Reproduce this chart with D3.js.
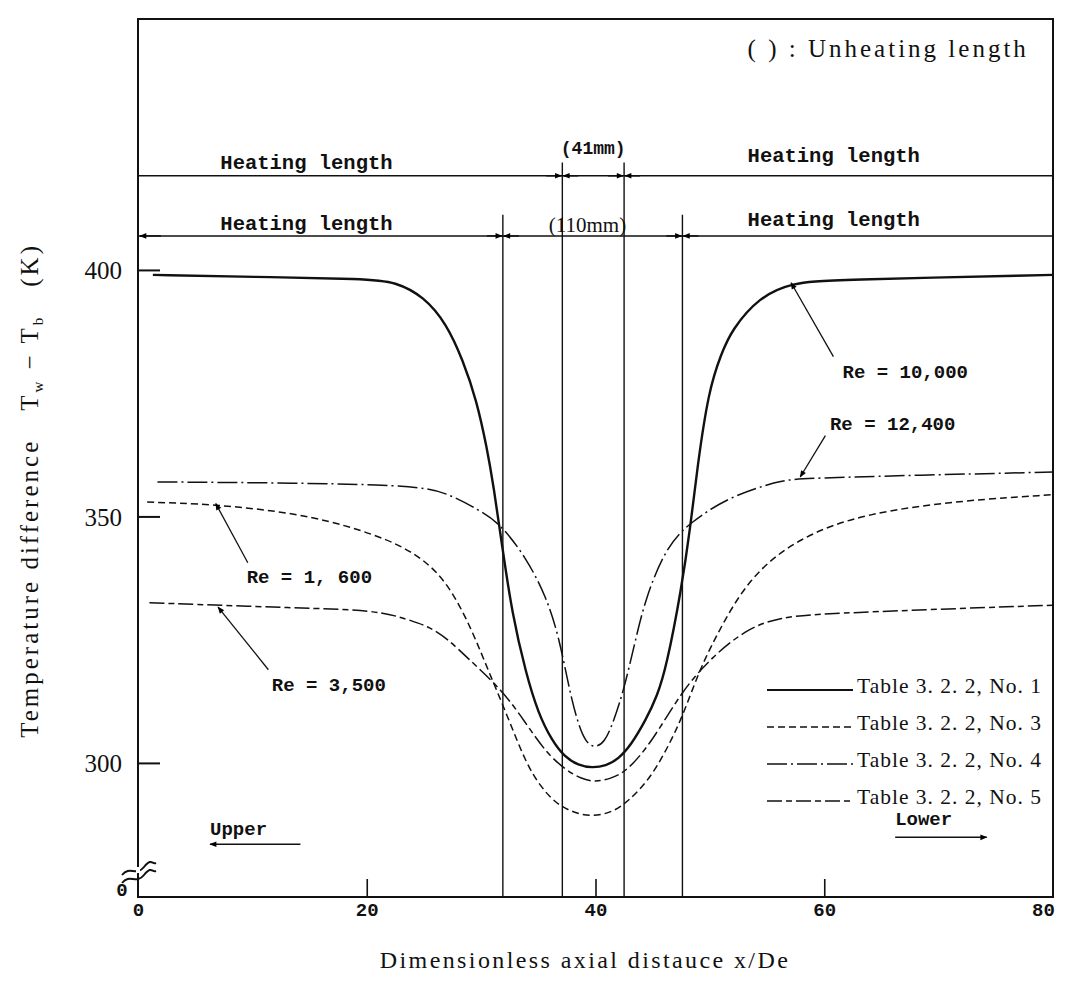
<!DOCTYPE html>
<html>
<head>
<meta charset="utf-8">
<script src="https://cdn.jsdelivr.net/npm/d3@7"></script>
<style>
  body { margin: 0; background: #fff; }
  svg { display: block; }
</style>
</head>
<body>
<div id="chart"></div>
<script>
// ===============================
// Data
// ===============================
// x = x/De, y = Tw - Tb (K)
const seriesNo1 = [[1.3,399.0],[10,398.6],[20.0,398.2],[22.5,397.6],[25.0,394.6],[27.0,389.0],[28.4,381.7],[29.6,373.6],[30.5,364.0],[31.1,356.0],[31.85,343.8],[32.7,330.4],[33.9,318.3],[35.0,310.0],[36.2,304.5],[37.3,301.2],[38.5,299.5],[39.7,299.0],[40.9,299.4],[42.0,300.8],[43.1,303.6],[44.4,308.7],[45.4,313.6],[46.2,319.5],[47.5,335.1],[48.3,347.9],[48.9,360.0],[49.9,375.7],[51.0,383.0],[51.9,387.8],[54.3,394.5],[57.2,397.4],[60.6,398.0],[80,399.0]];
const seriesNo3 = [[0.8,352.9],[6.5,352.5],[13.9,350.7],[19.6,347.3],[24.0,343.2],[27.0,337.1],[29.2,327.0],[30.7,318.3],[32.2,310.1],[33.9,300.0],[35.2,295.2],[36.4,292.1],[37.8,290.1],[39.7,289.0],[41.6,290.1],[42.9,292.3],[44.7,296.6],[46.2,302.6],[47.6,309.3],[49.0,318.3],[50.5,325.6],[53.4,337.7],[57.8,345.8],[63.6,350.7],[72.3,353.3],[80,354.4]];
const seriesNo4 = [[1.7,357.0],[24.0,356.6],[27.0,354.8],[29.8,351.3],[31.6,348.7],[33.9,341.8],[35.7,333.7],[36.8,325.6],[37.7,315.0],[38.4,308.5],[39.1,304.3],[39.9,303.0],[40.8,304.1],[41.6,308.5],[42.5,315.0],[43.4,324.0],[44.4,333.7],[46.2,343.8],[48.2,348.7],[51.7,354.0],[56.0,357.2],[57.8,357.8],[80,359.0]];
const seriesNo5 = [[1.0,332.5],[14.1,331.4],[20.9,331.0],[23.7,329.0],[25.5,327.6],[27.2,324.9],[28.7,321.5],[31.85,314.8],[33.9,308.1],[35.7,302.0],[37.4,298.6],[38.7,296.8],[40.0,296.1],[41.3,296.8],[42.7,298.2],[44.9,304.1],[47.6,314.8],[50.2,321.5],[53.1,327.0],[56.0,329.6],[60.6,330.4],[80,332.0]];

const seriesLabels = ["Table 3. 2. 2, No. 1", "Table 3. 2. 2, No. 3", "Table 3. 2. 2, No. 4", "Table 3. 2. 2, No. 5"];
const yTicks = [300, 350, 400];
const xTicks = [0, 20, 40, 60, 80];

// vertical boundaries of the unheated sections (x/De)
const innerBounds = [37.1, 42.5];   // 41 mm
const outerBounds = [31.9, 47.6];   // 110 mm

// Re labels: text position, arrow tail, arrow head (data units)
const reLabels = [
    { text: "Re = 10,000", tx: 61.6, ty: 378.0, from: [60.8, 382.4], to: [57.1, 397.4] },
    { text: "Re = 12,400", tx: 60.5, ty: 367.6, from: [60.1, 366.4], to: [57.9, 358.0] },
    { text: "Re = 1, 600", tx: 9.5, ty: 336.4, from: [9.6, 340.6], to: [6.8, 352.6] },
    { text: "Re = 3,500", tx: 11.7, ty: 314.6, from: [11.4, 318.9], to: [7.0, 331.6] }
];

// ===============================
// Layout
// ===============================
const W = 1069, H = 982;
const x = d3.scaleLinear().domain([0, 80]).range([138, 1053]);
const y = d3.scaleLinear().domain([272.8, 450.9]).range([897, 19]);

const styles = [
    { dash: null, width: 2.4 },
    { dash: "7,4", width: 1.5 },
    { dash: "20,4,2,4", width: 1.5 },
    { dash: "15,4,6,4", width: 1.5 }
];

const svg = d3.select("#chart").append("svg")
    .attr("width", W).attr("height", H)
    .style("background", "#fff");

const defs = svg.append("defs");
defs.append("marker")
    .attr("id", "arrow")
    .attr("viewBox", "0 0 10 10")
    .attr("refX", 9).attr("refY", 5)
    .attr("markerWidth", 9).attr("markerHeight", 7)
    .attr("markerUnits", "userSpaceOnUse")
    .attr("orient", "auto")
    .append("path").attr("d", "M0,1 L10,5 L0,9 Z").attr("fill", "#000");

const ink = "#111";
const mono = "'Liberation Mono', 'DejaVu Sans Mono', monospace";
const serif = "'Liberation Serif', 'DejaVu Serif', serif";

// frame
svg.append("rect")
    .attr("x", x(0)).attr("y", y.range()[1])
    .attr("width", x(80) - x(0)).attr("height", y.range()[0] - y.range()[1])
    .attr("fill", "none").attr("stroke", ink).attr("stroke-width", 2);

// y axis (inward ticks)
const yAxis = d3.axisLeft(y).tickValues(yTicks).tickSize(-22).tickPadding(16);
svg.append("g")
    .attr("transform", `translate(${x(0)},0)`)
    .call(yAxis)
    .call(g => g.select(".domain").remove())
    .call(g => g.selectAll(".tick line").attr("stroke", ink).attr("stroke-width", 2))
    .call(g => g.selectAll(".tick text")
        .attr("font-family", serif).attr("font-size", 25)
        .attr("fill", ink).attr("dy", "0.36em"));

// x axis
const xAxis = d3.axisBottom(x).tickValues(xTicks).tickSize(-18).tickPadding(6);
svg.append("g")
    .attr("transform", `translate(0,${y.range()[0]})`)
    .call(xAxis)
    .call(g => g.select(".domain").remove())
    .call(g => g.selectAll(".tick line")
        .attr("stroke", ink).attr("stroke-width", 1.6)
        .attr("display", d => (d === 0 || d === 80) ? "none" : null))
    .call(g => g.selectAll(".tick text")
        .attr("font-family", mono).attr("font-weight", "bold")
        .attr("font-size", 19).attr("fill", ink)
        .attr("dx", d => d === 80 ? -10 : 0));

// "0" at bottom of y axis plus break mark
svg.append("text")
    .attr("x", x(0) - 16).attr("y", y.range()[0] - 1)
    .attr("text-anchor", "middle")
    .attr("font-family", mono).attr("font-weight", "bold").attr("font-size", 19)
    .attr("fill", ink).text("0");
[0, 8].forEach(off => {
    const bx = x(0) - 16, by = y.range()[0] - 28 + off;
    svg.append("path")
        .attr("d", `M${bx},${by + 6} C${bx + 8},${by - 4} ${bx + 14},${by + 8} ${bx + 22},${by - 2} S${bx + 30},${by - 4} ${bx + 34},${by - 6}`)
        .attr("fill", "none").attr("stroke", ink).attr("stroke-width", 2);
});
// white gap in axis for the break
svg.append("rect")
    .attr("x", x(0) - 2).attr("y", y.range()[0] - 30)
    .attr("width", 4).attr("height", 6).attr("fill", "#fff");

// heating length dimension lines
const upperY = 419.1, lowerY = 406.9;
svg.append("line")
    .attr("x1", x(0)).attr("x2", x(80))
    .attr("y1", y(upperY)).attr("y2", y(upperY))
    .attr("stroke", ink).attr("stroke-width", 1.5);
svg.append("line")
    .attr("x1", x(0)).attr("x2", x(80))
    .attr("y1", y(lowerY)).attr("y2", y(lowerY))
    .attr("stroke", ink).attr("stroke-width", 1.5);

// left arrowhead on lower line
svg.append("line")
    .attr("x1", x(2)).attr("x2", x(0) + 2)
    .attr("y1", y(lowerY)).attr("y2", y(lowerY))
    .attr("stroke", ink).attr("stroke-width", 1.5)
    .attr("marker-end", "url(#arrow)");

// vertical boundary lines
svg.selectAll(".inner-bound").data(innerBounds).enter()
    .append("line").attr("class", "inner-bound")
    .attr("x1", d => x(d)).attr("x2", d => x(d))
    .attr("y1", y(421.8)).attr("y2", y.range()[0])
    .attr("stroke", ink).attr("stroke-width", 1.4);
svg.selectAll(".outer-bound").data(outerBounds).enter()
    .append("line").attr("class", "outer-bound")
    .attr("x1", d => x(d)).attr("x2", d => x(d))
    .attr("y1", y(411.2)).attr("y2", y.range()[0])
    .attr("stroke", ink).attr("stroke-width", 1.4);

// small arrows pointing at the boundaries
function boundArrows(bounds, yy) {
    bounds.forEach(b => {
        [-1, 1].forEach(side => {
            svg.append("line")
                .attr("x1", x(b) + side * 16).attr("x2", x(b) + side * 1)
                .attr("y1", y(yy)).attr("y2", y(yy))
                .attr("stroke", ink).attr("stroke-width", 1.5)
                .attr("marker-end", "url(#arrow)");
        });
    });
}
boundArrows(innerBounds, upperY);
boundArrows(outerBounds, lowerY);

// heating length texts
const heatTexts = [
    { t: "Heating length", tx: 7.2, ty: 420.4 },
    { t: "Heating length", tx: 53.3, ty: 421.9 },
    { t: "Heating length", tx: 7.2, ty: 408.1 },
    { t: "Heating length", tx: 53.3, ty: 409.0 }
];
svg.selectAll(".heat").data(heatTexts).enter()
    .append("text").attr("class", "heat")
    .attr("x", d => x(d.tx)).attr("y", d => y(d.ty))
    .attr("font-family", mono).attr("font-weight", "bold").attr("font-size", 20.5)
    .attr("fill", ink).text(d => d.t);

svg.append("text")
    .attr("x", x(39.8)).attr("y", y(423.6))
    .attr("text-anchor", "middle")
    .attr("font-family", mono).attr("font-weight", "bold").attr("font-size", 18)
    .attr("fill", ink).text("(41mm)");
svg.append("text")
    .attr("x", x(39.3)).attr("y", y(407.6))
    .attr("text-anchor", "middle")
    .attr("font-family", serif).attr("font-size", 21)
    .attr("fill", ink).text("(110mm)");

svg.append("text")
    .attr("x", x(53.3)).attr("y", y(443.2))
    .attr("font-family", serif).attr("font-size", 25)
    .attr("letter-spacing", 3)
    .attr("fill", ink).text("( ) : Unheating length");

// curves
const line = d3.line()
    .x(d => x(d[0])).y(d => y(d[1]))
    .curve(d3.curveBasis);

const allSeries = [seriesNo1, seriesNo3, seriesNo4, seriesNo5];
svg.selectAll(".curve").data(allSeries).enter()
    .append("path").attr("class", "curve")
    .attr("d", line)
    .attr("fill", "none")
    .attr("stroke", ink)
    .attr("stroke-width", (d, i) => styles[i].width)
    .attr("stroke-dasharray", (d, i) => styles[i].dash);

// Re labels with arrows
reLabels.forEach(r => {
    svg.append("line")
        .attr("x1", x(r.from[0])).attr("y1", y(r.from[1]))
        .attr("x2", x(r.to[0])).attr("y2", y(r.to[1]))
        .attr("stroke", ink).attr("stroke-width", 1.3)
        .attr("marker-end", "url(#arrow)");
    svg.append("text")
        .attr("x", x(r.tx)).attr("y", y(r.ty))
        .attr("font-family", mono).attr("font-weight", "bold").attr("font-size", 19)
        .attr("fill", ink).text(r.text);
});

// legend
const legendRows = [690, 727, 764, 801];
const legend = svg.append("g");
seriesLabels.forEach((lab, i) => {
    legend.append("line")
        .attr("x1", 767).attr("x2", 853)
        .attr("y1", legendRows[i]).attr("y2", legendRows[i])
        .attr("stroke", ink)
        .attr("stroke-width", i === 0 ? 2 : 1.5)
        .attr("stroke-dasharray", styles[i].dash);
    legend.append("text")
        .attr("x", 857).attr("y", legendRows[i] + 3)
        .attr("font-family", serif).attr("font-size", 21.5)
        .attr("letter-spacing", 1)
        .attr("fill", ink).text(lab);
});

// Upper / Lower flow-direction arrows
svg.append("text")
    .attr("x", x(6.3)).attr("y", y(285.3))
    .attr("font-family", mono).attr("font-weight", "bold").attr("font-size", 19)
    .attr("fill", ink).text("Upper");
svg.append("line")
    .attr("x1", x(14.2)).attr("x2", x(6.3))
    .attr("y1", y(283.5)).attr("y2", y(283.5))
    .attr("stroke", ink).attr("stroke-width", 1.5)
    .attr("marker-end", "url(#arrow)");
svg.append("text")
    .attr("x", x(66.2)).attr("y", y(287.4))
    .attr("font-family", mono).attr("font-weight", "bold").attr("font-size", 19)
    .attr("fill", ink).text("Lower");
svg.append("line")
    .attr("x1", x(66.2)).attr("x2", x(74.2))
    .attr("y1", y(284.9)).attr("y2", y(284.9))
    .attr("stroke", ink).attr("stroke-width", 1.5)
    .attr("marker-end", "url(#arrow)");

// axis titles
const yTitle = svg.append("text")
    .attr("transform", `translate(38,${(y(300) + y(400)) / 2 - 26}) rotate(-90)`)
    .attr("text-anchor", "middle")
    .attr("font-family", serif).attr("font-size", 25)
    .attr("letter-spacing", 3)
    .attr("fill", ink);
yTitle.append("tspan").text("Temperature difference\u2003T");
yTitle.append("tspan").attr("font-size", 15).attr("dy", 5).text("w");
yTitle.append("tspan").attr("dy", -5).text(" \u2212 T");
yTitle.append("tspan").attr("font-size", 15).attr("dy", 5).text("b");
yTitle.append("tspan").attr("dy", -5).text("\u2003(K)");

svg.append("text")
    .attr("x", 585).attr("y", 968)
    .attr("text-anchor", "middle")
    .attr("font-family", serif).attr("font-size", 24)
    .attr("letter-spacing", 2.4)
    .attr("fill", ink).text("Dimensionless axial distauce x/De");
</script>
</body>
</html>
